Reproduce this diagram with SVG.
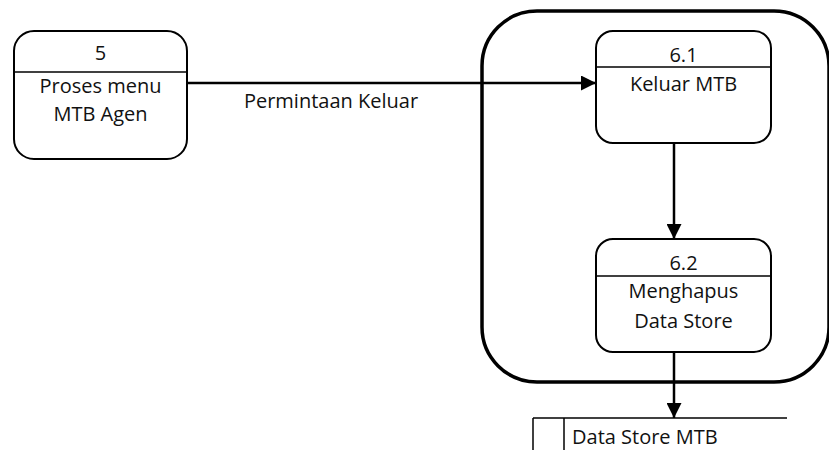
<svg xmlns="http://www.w3.org/2000/svg" width="829" height="450" viewBox="0 0 829 450">
  <style>
    .proc { fill: #ffffff; stroke: #000000; stroke-width: 2; }
    .div { stroke: #000000; stroke-width: 1.5; }
    .frame { fill: none; stroke: #000000; stroke-width: 3.5; }
    .flow { fill: none; stroke: #000000; stroke-width: 2.5; }
    text { font-family: "Open Sans", "Liberation Sans", sans-serif; font-size: 20px; fill: #111111; text-anchor: middle; }
  </style>
  <defs>
    <marker id="arrow" viewBox="0 0 10 10" refX="10" refY="5" markerWidth="6" markerHeight="6" markerUnits="strokeWidth" orient="auto">
      <path d="M0,0 L10,5 L0,10 z" fill="#000000"/>
    </marker>
  </defs>

  <!-- process boundary -->
  <rect class="frame" x="482" y="11" width="347" height="371" rx="55" ry="55"/>

  <g id="proc-5">
    <rect class="proc" x="14" y="31" width="173" height="128" rx="20" ry="20"/>
    <line class="div" x1="14" y1="72" x2="187" y2="72"/>
    <text x="100.5" y="60">5</text>
    <text x="100.5" y="93">Proses menu</text>
    <text x="100.5" y="121">MTB Agen</text>
  </g>

  <g id="proc-6-1">
    <rect class="proc" x="596" y="31" width="175" height="112" rx="17" ry="17"/>
    <line class="div" x1="596" y1="67" x2="771" y2="67"/>
    <text x="683.5" y="62">6.1</text>
    <text x="683.5" y="91">Keluar MTB</text>
  </g>

  <g id="proc-6-2">
    <rect class="proc" x="596" y="239" width="175" height="113" rx="17" ry="17"/>
    <line class="div" x1="596" y1="276" x2="771" y2="276"/>
    <text x="683.5" y="270">6.2</text>
    <text x="683.5" y="298">Menghapus</text>
    <text x="683.5" y="328">Data Store</text>
  </g>

  <g id="store-mtb">
    <line class="div" x1="533" y1="418" x2="787" y2="418"/>
    <line class="div" x1="533" y1="418" x2="533" y2="450"/>
    <line class="div" x1="564" y1="418" x2="564" y2="450"/>
    <text x="572" y="444" style="text-anchor:start">Data Store MTB</text>
  </g>

  <g id="connectors">
    <line class="flow" x1="187" y1="83" x2="596" y2="83" marker-end="url(#arrow)"/>
    <text x="331" y="108">Permintaan Keluar</text>
    <line class="flow" x1="674" y1="143" x2="674" y2="239" marker-end="url(#arrow)"/>
    <line class="flow" x1="674" y1="352" x2="674" y2="418" marker-end="url(#arrow)"/>
  </g>
</svg>
